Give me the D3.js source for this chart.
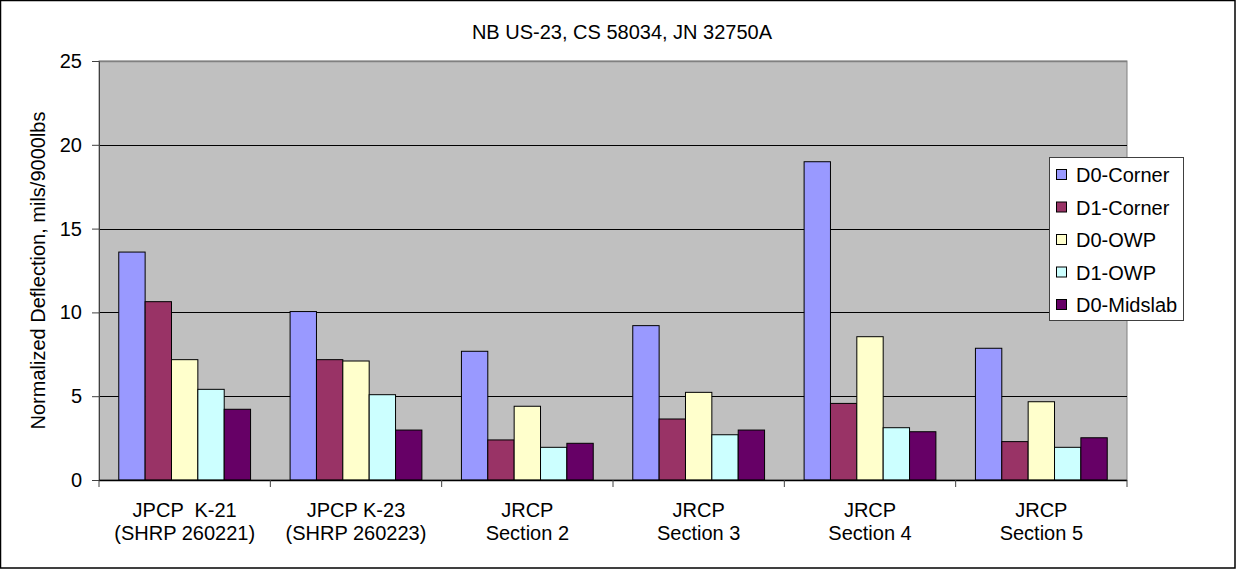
<!DOCTYPE html>
<html>
<head>
<meta charset="utf-8">
<script src="https://cdn.jsdelivr.net/npm/d3@7"></script>
<style>
  html, body { margin: 0; padding: 0; background: #fff; }
  svg { display: block; font-family: "Liberation Sans", Arial, sans-serif; }
</style>
</head>
<body>
<svg id="chart" width="1236" height="569"></svg>
<script>
// Sections along the route (two-line labels)
const categories = [
  ["JPCP  K-21", "(SHRP 260221)"],
  ["JPCP K-23", "(SHRP 260223)"],
  ["JRCP", "Section 2"],
  ["JRCP", "Section 3"],
  ["JRCP", "Section 4"],
  ["JRCP", "Section 5"]
];
const seriesNames = ["D0-Corner", "D1-Corner", "D0-OWP", "D1-OWP", "D0-Midslab"];
const seriesColors = ["#9999FF", "#993366", "#FFFFCC", "#CCFFFF", "#660066"];

// Normalized deflections, mils/9000lbs
const d0Corner  = [13.6, 10.05, 7.68, 9.21, 18.99, 7.86];
const d1Corner  = [10.64, 7.18, 2.39, 3.64, 4.57, 2.29];
const d0OWP     = [7.18, 7.10, 4.40, 5.23, 8.55, 4.67];
const d1OWP     = [5.41, 5.09, 1.95, 2.70, 3.12, 1.95];
const d0Midslab = [4.22, 2.98, 2.19, 2.98, 2.88, 2.52];
const yTicks = [0, 5, 10, 15, 20, 25];

const series = [d0Corner, d1Corner, d0OWP, d1OWP, d0Midslab];

const svg = d3.select("#chart");
const W = 1236, H = 569;
const FONT = 20;

// outer frame
svg.append("rect").attr("x", 0.5).attr("y", 0.5).attr("width", W - 1.5).attr("height", H - 1.5)
  .attr("fill", "#fff").attr("stroke", "#000").attr("stroke-width", 1.5);

const plot = { left: 99, right: 1127, top: 61, bottom: 480 };

// each category holds 5 bars plus a gap of 1.5 bar widths (0.75 on each side)
const x0 = d3.scaleBand().domain(d3.range(categories.length))
  .range([plot.left, plot.right]).paddingInner(0).paddingOuter(0);
const x1 = d3.scaleBand().domain(d3.range(series.length))
  .range([0, x0.bandwidth()]).paddingOuter(0.75).paddingInner(0);
const y = d3.scaleLinear().domain([0, 25]).range([plot.bottom, plot.top]);

// plot background
svg.append("rect").attr("x", plot.left).attr("y", plot.top)
  .attr("width", plot.right - plot.left).attr("height", plot.bottom - plot.top)
  .attr("fill", "#C0C0C0").attr("stroke", "#808080").attr("stroke-width", 1);

// gridlines
svg.append("g").selectAll("line").data(yTicks.filter(t => t > 0 && t < 25)).join("line")
  .attr("x1", plot.left).attr("x2", plot.right)
  .attr("y1", d => Math.round(y(d)) + 0.5).attr("y2", d => Math.round(y(d)) + 0.5)
  .attr("stroke", "#000").attr("stroke-width", 1);
svg.append("line").attr("x1", plot.left).attr("x2", plot.right)
  .attr("y1", y(25) + 0.5).attr("y2", y(25) + 0.5).attr("stroke", "#808080").attr("stroke-width", 1.5);

// bars
const groups = svg.append("g").selectAll("g").data(categories.map((c, i) => i)).join("g")
  .attr("transform", i => `translate(${x0(i)},0)`);
groups.selectAll("rect").data(i => series.map((s, k) => ({ k, v: s[i] }))).join("rect")
  .attr("x", d => x1(d.k))
  .attr("y", d => y(d.v))
  .attr("width", x1.bandwidth())
  .attr("height", d => y(0) - y(d.v))
  .attr("fill", d => seriesColors[d.k])
  .attr("stroke", "#000").attr("stroke-width", 1);

// y axis
const yAxis = d3.axisLeft(y).tickValues(yTicks).tickSize(7).tickPadding(10);
const gy = svg.append("g").attr("transform", `translate(${plot.left},0)`).call(yAxis);
gy.select(".domain").attr("stroke", "#404040");
gy.selectAll(".tick line").attr("stroke", "#404040");
gy.selectAll("text").attr("font-size", FONT).attr("fill", "#000")
  .attr("font-family", "'Liberation Sans', Arial, sans-serif");

// x axis
const xBounds = d3.range(categories.length + 1).map(i => plot.left + i * x0.step());
svg.append("line").attr("x1", plot.left).attr("x2", plot.right)
  .attr("y1", plot.bottom + 0.5).attr("y2", plot.bottom + 0.5).attr("stroke", "#000").attr("stroke-width", 1.5);
svg.append("g").selectAll("line").data(xBounds).join("line")
  .attr("x1", d => d).attr("x2", d => d)
  .attr("y1", plot.bottom).attr("y2", plot.bottom + 7)
  .attr("stroke", "#404040");

const xl = svg.append("g").selectAll("text").data(categories).join("text")
  .attr("x", (d, i) => x0(i) + x0.bandwidth() / 2)
  .attr("y", 517)
  .attr("text-anchor", "middle")
  .attr("font-size", FONT)
  .style("white-space", "pre");
xl.append("tspan").text(d => d[0]).attr("x", (d, i) => x0(i) + x0.bandwidth() / 2).attr("dy", 0);
xl.append("tspan").text(d => d[1]).attr("x", (d, i) => x0(i) + x0.bandwidth() / 2).attr("dy", 23);

// title
svg.append("text").attr("x", 622).attr("y", 39).attr("text-anchor", "middle")
  .attr("font-size", FONT).text("NB US-23, CS 58034, JN 32750A");

// y-axis title
svg.append("text").attr("transform", `translate(45,${(plot.top + plot.bottom) / 2}) rotate(-90)`)
  .attr("text-anchor", "middle").attr("font-size", FONT)
  .text("Normalized Deflection, mils/9000lbs");

// legend
const lg = svg.append("g").attr("transform", "translate(1049,157)");
lg.append("rect").attr("x", 0.5).attr("y", 0.5).attr("width", 134).attr("height", 163)
  .attr("fill", "#fff").attr("stroke", "#404040").attr("stroke-width", 1);
const items = lg.selectAll("g.item").data(seriesNames).join("g").attr("class", "item")
  .attr("transform", (d, i) => `translate(0,${18 + i * 32.5})`);
items.append("rect").attr("x", 7.5).attr("y", -5.5).attr("width", 10).attr("height", 10)
  .attr("fill", (d, i) => seriesColors[i]).attr("stroke", "#000").attr("stroke-width", 1);
items.append("text").attr("x", 27).attr("y", 7).attr("font-size", FONT).text(d => d);
</script>
</body>
</html>
